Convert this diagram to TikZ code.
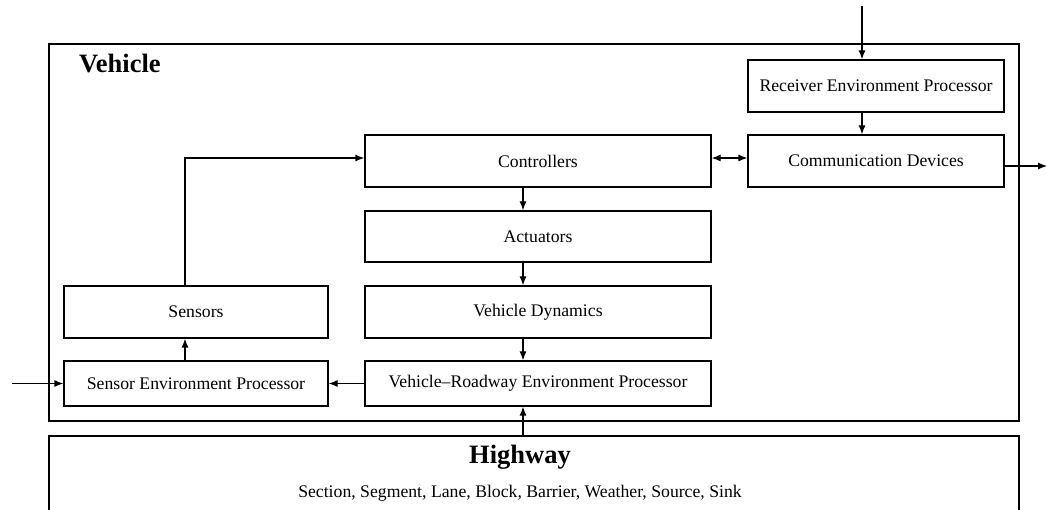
\documentclass[tikz,border=0pt]{standalone}
\usepackage{fontspec}
\setmainfont{Liberation Serif}
\usetikzlibrary{arrows.meta}
\tikzset{
  blk/.style={draw=black, line width=1.2pt, fill=white, inner sep=0pt,
              font=\fontsize{17.7}{20}\selectfont},
  frame/.style={draw=black, line width=1.2pt, inner sep=0pt},
  arr/.style={line width=1.2pt, -{Latex[length=9pt,width=7pt]}},
  biarr/.style={line width=1.2pt, {Latex[length=9pt,width=7pt]}-{Latex[length=9pt,width=7pt]}},
  title/.style={font=\fontsize{26.5}{30}\selectfont\bfseries, inner sep=0pt},
}
\begin{document}
\begin{tikzpicture}[x=1pt, y=-1pt]
\useasboundingbox (0,0) rectangle (1047,510);
\clip (0,0) rectangle (1047,510);

% outer frames
\node[frame, minimum width=970pt, minimum height=377pt] (veh) at (534,232.5) {};
\node[frame, minimum width=970pt, minimum height=94pt] (hwy) at (534,483) {};
\node[title, anchor=base west] (vehlbl) at (79,73) {Vehicle};
\node[title, anchor=base] (hwylbl) at (520,463) {Highway};
\node[font=\fontsize{17.7}{20}\selectfont, inner sep=0pt, anchor=base] (hwytxt) at (520,497)
  {Section, Segment, Lane, Block, Barrier, Weather, Source, Sink};

% blocks
\node[blk, minimum width=256pt, minimum height=52pt] (rep)  at (876,86)    {Receiver Environment Processor};
\node[blk, minimum width=256pt, minimum height=52pt] (comm) at (876,161)   {Communication Devices};
\node[blk, minimum width=346pt, minimum height=52pt] (ctrl) at (538,161)   {Controllers};
\node[blk, minimum width=346pt, minimum height=51pt] (act)  at (538,236.5) {Actuators};
\node[blk, minimum width=346pt, minimum height=52pt] (vd)   at (538,312)   {Vehicle Dynamics};
\node[blk, minimum width=346pt, minimum height=45pt] (vrep) at (538,383.5) {Vehicle--Roadway Environment Processor};
\node[blk, minimum width=264pt, minimum height=52pt] (sens) at (196,312)   {Sensors};
\node[blk, minimum width=264pt, minimum height=45pt] (sep)  at (196,383.5) {Sensor Environment Processor};

% reference points for connector routes
\coordinate (rin) at (862,6);
\coordinate (cout) at (1047,166);
\coordinate (lin) at (12,383.5);
\coordinate (cx) at (523,0);
\coordinate (sx) at (185,0);

% connectors
\draw[arr] (rin) -- (rep.north -| rin);
\draw[arr] (rep.south -| rin) -- (comm.north -| rin);
\draw[arr] (comm.east |- cout) -- (cout);
\draw[biarr] ([yshift=3pt]ctrl.east) -- ([yshift=3pt]comm.west);
\draw[arr] (ctrl.south -| cx) -- (act.north -| cx);
\draw[arr] (act.south -| cx) -- (vd.north -| cx);
\draw[arr] (vd.south -| cx) -- (vrep.north -| cx);
\draw[arr] (hwy.north -| cx) -- (vrep.south -| cx);
\draw[arr] (vrep.west) -- (sep.east);
\draw[arr] (sep.north -| sx) -- (sens.south -| sx);
\draw[arr] (sens.north -| sx) |- ([yshift=3pt]ctrl.west);
\draw[arr] (lin) -- (sep.west);
\end{tikzpicture}
\end{document}
